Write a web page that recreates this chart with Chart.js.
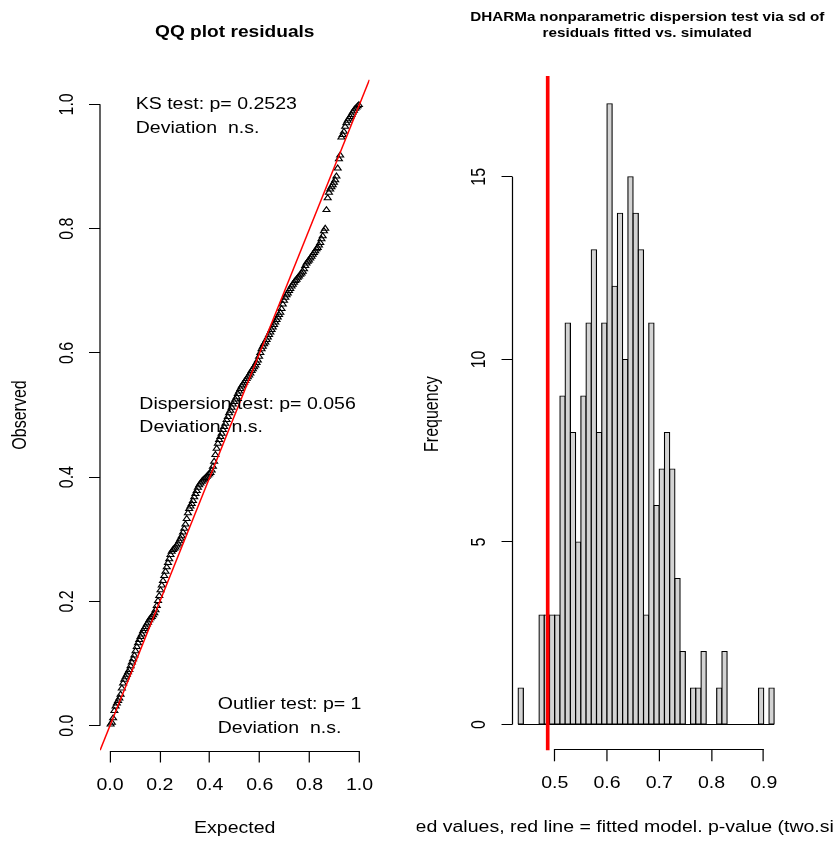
<!DOCTYPE html>
<html>
<head>
<meta charset="utf-8">
<script src="https://cdn.jsdelivr.net/npm/chart.js@4.4.1/dist/chart.umd.min.js"></script>
<style>
html,body{margin:0;padding:0;background:#ffffff;width:833px;height:848px;overflow:hidden}
canvas{position:absolute;left:0;top:0}
</style>
</head>
<body>
<canvas id="qq" width="833" height="848"></canvas>
<canvas id="hist" width="833" height="848"></canvas>
<script>
// ---------------- data ----------------
const qqExpected = [
  0.0025,0.0075,0.0125,0.0175,0.0225,0.0275,0.0325,0.0375,0.0425,0.0475,
  0.0525,0.0575,0.0625,0.0675,0.0725,0.0775,0.0825,0.0875,0.0925,0.0975,
  0.1025,0.1075,0.1125,0.1175,0.1225,0.1275,0.1325,0.1375,0.1425,0.1475,
  0.1525,0.1575,0.1625,0.1675,0.1725,0.1775,0.1825,0.1875,0.1925,0.1975,
  0.2025,0.2075,0.2125,0.2175,0.2225,0.2275,0.2325,0.2375,0.2425,0.2475,
  0.2525,0.2575,0.2625,0.2675,0.2725,0.2775,0.2825,0.2875,0.2925,0.2975,
  0.3025,0.3075,0.3125,0.3175,0.3225,0.3275,0.3325,0.3375,0.3425,0.3475,
  0.3525,0.3575,0.3625,0.3675,0.3725,0.3775,0.3825,0.3875,0.3925,0.3975,
  0.4025,0.4075,0.4125,0.4175,0.4225,0.4275,0.4325,0.4375,0.4425,0.4475,
  0.4525,0.4575,0.4625,0.4675,0.4725,0.4775,0.4825,0.4875,0.4925,0.4975,
  0.5025,0.5075,0.5125,0.5175,0.5225,0.5275,0.5325,0.5375,0.5425,0.5475,
  0.5525,0.5575,0.5625,0.5675,0.5725,0.5775,0.5825,0.5875,0.5925,0.5975,
  0.6025,0.6075,0.6125,0.6175,0.6225,0.6275,0.6325,0.6375,0.6425,0.6475,
  0.6525,0.6575,0.6625,0.6675,0.6725,0.6775,0.6825,0.6875,0.6925,0.6975,
  0.7025,0.7075,0.7125,0.7175,0.7225,0.7275,0.7325,0.7375,0.7425,0.7475,
  0.7525,0.7575,0.7625,0.7675,0.7725,0.7775,0.7825,0.7875,0.7925,0.7975,
  0.8025,0.8075,0.8125,0.8175,0.8225,0.8275,0.8325,0.8375,0.8425,0.8475,
  0.8525,0.8575,0.8625,0.8675,0.8725,0.8775,0.8825,0.8875,0.8925,0.8975,
  0.9025,0.9075,0.9125,0.9175,0.9225,0.9275,0.9325,0.9375,0.9425,0.9475,
  0.9525,0.9575,0.9625,0.9675,0.9725,0.9775,0.9825,0.9875,0.9925,0.9975
];
const qqObserved = [
  0.002,0.005,0.012,0.024,0.031,0.036,0.040,0.044,0.050,0.060,
  0.068,0.074,0.078,0.082,0.086,0.090,0.096,0.102,0.107,0.113,
  0.120,0.127,0.133,0.138,0.143,0.147,0.152,0.156,0.159,0.163,
  0.166,0.170,0.173,0.175,0.178,0.181,0.186,0.193,0.201,0.209,
  0.218,0.226,0.233,0.241,0.248,0.255,0.262,0.268,0.275,0.280,
  0.283,0.285,0.287,0.290,0.293,0.297,0.301,0.305,0.311,0.317,
  0.324,0.333,0.342,0.349,0.353,0.357,0.362,0.368,0.373,0.378,
  0.383,0.387,0.390,0.393,0.395,0.397,0.399,0.401,0.403,0.405,
  0.407,0.411,0.417,0.425,0.436,0.446,0.454,0.460,0.465,0.470,
  0.476,0.481,0.486,0.492,0.497,0.503,0.507,0.512,0.517,0.521,
  0.525,0.529,0.534,0.538,0.542,0.546,0.549,0.552,0.555,0.558,
  0.561,0.564,0.567,0.571,0.574,0.577,0.580,0.584,0.588,0.594,
  0.600,0.606,0.610,0.614,0.617,0.621,0.625,0.629,0.633,0.637,
  0.641,0.645,0.649,0.653,0.657,0.661,0.665,0.671,0.678,0.684,
  0.689,0.693,0.696,0.700,0.703,0.707,0.710,0.713,0.716,0.718,
  0.721,0.723,0.726,0.728,0.731,0.735,0.740,0.744,0.747,0.749,
  0.752,0.755,0.758,0.761,0.764,0.767,0.769,0.773,0.777,0.783,
  0.788,0.796,0.800,0.830,0.849,0.858,0.863,0.867,0.870,0.874,
  0.878,0.884,0.897,0.912,0.918,0.947,0.951,0.956,0.964,0.970,
  0.974,0.977,0.980,0.983,0.987,0.990,0.993,0.995,0.997,0.999
];
const qqRefLine = [-0.04, 1.04];           // y = x reference line (data units)
const qqTicks = [0, 0.2, 0.4, 0.6, 0.8, 1.0];
const qqTickLabels = ['0.0', '0.2', '0.4', '0.6', '0.8', '1.0'];

const histBreaks = [
  0.43,0.44,0.45,0.46,0.47,0.48,0.49,0.50,0.51,0.52,
  0.53,0.54,0.55,0.56,0.57,0.58,0.59,0.60,0.61,0.62,
  0.63,0.64,0.65,0.66,0.67,0.68,0.69,0.70,0.71,0.72,
  0.73,0.74,0.75,0.76,0.77,0.78,0.79,0.80,0.81,0.82,
  0.83,0.84,0.85,0.86,0.87,0.88,0.89,0.90,0.91,0.92
];
const histCounts = [
  1,0,0,0,3,3,3,3,9,11,
  8,5,9,11,13,8,11,17,12,14,
  10,15,14,13,3,11,6,7,8,7,
  4,2,0,1,1,2,0,0,1,2,
  0,0,0,0,0,0,1,0,1
];
const histXTicks = [0.5, 0.6, 0.7, 0.8, 0.9];
const histXTickLabels = ['0.5', '0.6', '0.7', '0.8', '0.9'];
const histYTicks = [0, 5, 10, 15];
const histYTickLabels = ['0', '5', '10', '15'];
const observedSd = 0.4866;

const ksText = ['KS test: p= 0.2523', 'Deviation  n.s.'];
const dispText = ['Dispersion test: p= 0.056', 'Deviation  n.s.'];
const outlierText = ['Outlier test: p= 1', 'Deviation  n.s.'];

// ---------------- layout / style ----------------
const S = 1.22;           // horizontal stretch of the reference picture
const W = 833, H = 848;
const FONT = '"Liberation Sans", Arial, Helvetica, sans-serif';
Chart.defaults.font.family = FONT;
Chart.defaults.color = '#000';

const QQ = {L: 100, R: 369.5, T: 79.5, B: 750.5};
const HI = {L: 512.5, R: 782, T: 79, B: 749.3};
const AXW = 40, AXH = 40;

function fixBox(size, horizontal) {
  return function (scale) {
    if (horizontal) scale.height = size; else scale.width = size;
    scale.paddingLeft = 0; scale.paddingRight = 0;
    scale.paddingTop = 0; scale.paddingBottom = 0;
  };
}
function setTicks(arr) {
  return function (scale) { scale.ticks = arr.map(v => ({value: v})); };
}
function txt(ctx, s, x, y, font, align) {
  ctx.font = font;
  ctx.fillStyle = '#000';
  ctx.textAlign = align || 'center';
  ctx.textBaseline = 'middle';
  ctx.fillText(s, x / S, y);
}
function rtxt(ctx, s, x, y, font) {
  ctx.save();
  ctx.font = font;
  ctx.fillStyle = '#000';
  ctx.translate(x / S, y);
  ctx.rotate(-Math.PI / 2);
  ctx.textAlign = 'center';
  ctx.textBaseline = 'middle';
  ctx.fillText(s, 0, 0);
  ctx.restore();
}
function axisLines(ctx, xs, ys, a, xt, yt) {
  ctx.save();
  ctx.strokeStyle = '#000';
  ctx.lineWidth = 1;
  ctx.beginPath();
  const yb = Math.round(a.bottom) + 0.5;
  ctx.moveTo(xs.getPixelForValue(xt[0]), yb);
  ctx.lineTo(xs.getPixelForValue(xt[xt.length - 1]), yb);
  ctx.moveTo(a.left, ys.getPixelForValue(yt[0]));
  ctx.lineTo(a.left, ys.getPixelForValue(yt[yt.length - 1]));
  ctx.stroke();
  ctx.restore();
}
function stretchPlugin(extra) {
  return {
    id: 'stretchDraw',
    beforeDraw(chart) { chart.ctx.save(); chart.ctx.scale(S, 1); },
    afterDraw(chart) { extra(chart); chart.ctx.restore(); }
  };
}
function xScaleOpts(min, max, ticks, labels) {
  return {
    type: 'linear', min: min, max: max, offset: false,
    afterBuildTicks: setTicks(ticks),
    afterFit: fixBox(AXH, true),
    grid: {drawOnChartArea: false, drawTicks: true, tickLength: 12, color: '#000', lineWidth: 1, offset: false},
    border: {display: false},
    ticks: {color: '#000', font: {family: FONT, size: 16}, padding: 13,
            minRotation: 0, maxRotation: 0, autoSkip: false,
            callback: (v, i) => labels[i]}
  };
}
function yScaleOpts(min, max, ticks) {
  return {
    type: 'linear', min: min, max: max,
    afterBuildTicks: setTicks(ticks),
    afterFit: fixBox(AXW, false),
    grid: {drawOnChartArea: false, drawTicks: true, tickLength: 9, color: '#000', lineWidth: 1},
    border: {display: false},
    ticks: {display: false}
  };
}

// ---------------- QQ plot ----------------
const qqPoints = qqExpected.map((e, i) => ({x: e, y: qqObserved[i]}));
new Chart(document.getElementById('qq'), {
  type: 'scatter',
  data: {
    datasets: [
      {
        type: 'line',
        data: qqRefLine.map(v => ({x: v, y: v})),
        borderColor: '#FF0000', borderWidth: 1.2, pointRadius: 0,
        showLine: true, fill: false, order: 0
      },
      {
        data: qqPoints,
        pointStyle: 'triangle', pointRadius: 3.3,
        pointBorderColor: '#000', pointBackgroundColor: 'rgba(0,0,0,0)',
        pointBorderWidth: 1, borderColor: '#000', order: 1
      }
    ]
  },
  options: {
    responsive: false, animation: false, events: [], devicePixelRatio: 1,
    layout: {autoPadding: false,
             padding: {left: QQ.L / S - AXW, right: W - QQ.R / S, top: QQ.T, bottom: H - QQ.B - AXH}},
    plugins: {legend: {display: false}, tooltip: {enabled: false}, title: {display: false}},
    scales: {
      x: xScaleOpts(-0.04, 1.04, qqTicks, qqTickLabels),
      y: yScaleOpts(-0.04, 1.04, qqTicks)
    }
  },
  plugins: [stretchPlugin(function (chart) {
    const ctx = chart.ctx, xs = chart.scales.x, ys = chart.scales.y, a = chart.chartArea;
    axisLines(ctx, xs, ys, a, qqTicks, qqTicks);
    const f16 = '16px ' + FONT;
    qqTicks.forEach((v, i) => rtxt(ctx, qqTickLabels[i], 67.5, ys.getPixelForValue(v), f16));
    txt(ctx, 'QQ plot residuals', (QQ.L + QQ.R) / 2, 33, 'bold 15.7px ' + FONT);
    txt(ctx, 'Expected', (QQ.L + QQ.R) / 2, 829, f16);
    rtxt(ctx, 'Observed', 20.5, (QQ.T + QQ.B) / 2, f16);
    txt(ctx, ksText[0], 135.7, 105, f16, 'left');
    txt(ctx, ksText[1], 135.7, 128.5, f16, 'left');
    txt(ctx, dispText[0], 139.3, 404.3, f16, 'left');
    txt(ctx, dispText[1], 139.3, 427.7, f16, 'left');
    txt(ctx, outlierText[0], 217.7, 705, f16, 'left');
    txt(ctx, outlierText[1], 217.7, 728.3, f16, 'left');
  })]
});

// ---------------- Histogram ----------------
const histData = histCounts.map((c, i) => ({x: (histBreaks[i] + histBreaks[i + 1]) / 2, y: c}));
new Chart(document.getElementById('hist'), {
  type: 'bar',
  data: {
    datasets: [{
      data: histData,
      backgroundColor: '#D3D3D3', borderColor: '#000', borderWidth: 1,
      borderSkipped: false, inflateAmount: 0.5,
      barPercentage: 1, categoryPercentage: 1
    }]
  },
  options: {
    responsive: false, animation: false, events: [], devicePixelRatio: 1,
    layout: {autoPadding: false,
             padding: {left: HI.L / S - AXW, right: W - HI.R / S, top: HI.T, bottom: H - HI.B - AXH}},
    plugins: {legend: {display: false}, tooltip: {enabled: false}, title: {display: false}},
    scales: {
      x: xScaleOpts(0.41923, 0.935, histXTicks, histXTickLabels),
      y: yScaleOpts(-0.68, 17.68, histYTicks)
    }
  },
  plugins: [stretchPlugin(function (chart) {
    const ctx = chart.ctx, xs = chart.scales.x, ys = chart.scales.y, a = chart.chartArea;
    // baseline under zero-count bins
    ctx.save();
    ctx.strokeStyle = '#000'; ctx.lineWidth = 1;
    ctx.beginPath();
    const y0 = Math.round(ys.getPixelForValue(0)) + 0.5;
    ctx.moveTo(xs.getPixelForValue(histBreaks[0]), y0);
    ctx.lineTo(xs.getPixelForValue(histBreaks[histBreaks.length - 1]), y0);
    ctx.stroke();
    // observed value (red line)
    ctx.strokeStyle = '#FF0000'; ctx.lineWidth = 3;
    ctx.beginPath();
    const xr = xs.getPixelForValue(observedSd);
    ctx.moveTo(xr, a.top - 3);
    ctx.lineTo(xr, a.bottom + 1);
    ctx.stroke();
    ctx.restore();
    axisLines(ctx, xs, ys, a, histXTicks, histYTicks);
    const f16 = '16px ' + FONT;
    histYTicks.forEach((v, i) => rtxt(ctx, histYTickLabels[i], 480, ys.getPixelForValue(v), f16));
    const cx = (HI.L + HI.R) / 2;
    txt(ctx, 'DHARMa nonparametric dispersion test via sd of', cx, 18, 'bold 12.5px ' + FONT);
    txt(ctx, 'residuals fitted vs. simulated', cx, 33.5, 'bold 12.5px ' + FONT);
    rtxt(ctx, 'Frequency', 433, (HI.T + HI.B) / 2, f16);
    ctx.save();
    ctx.beginPath();
    ctx.rect(416.5 / S, 0, W, H);
    ctx.clip();
    txt(ctx, 'Simulated values, red line = fitted model. p-value (two.sided) = 0.056', cx, 828, f16);
    ctx.restore();
  })]
});
</script>
</body>
</html>
